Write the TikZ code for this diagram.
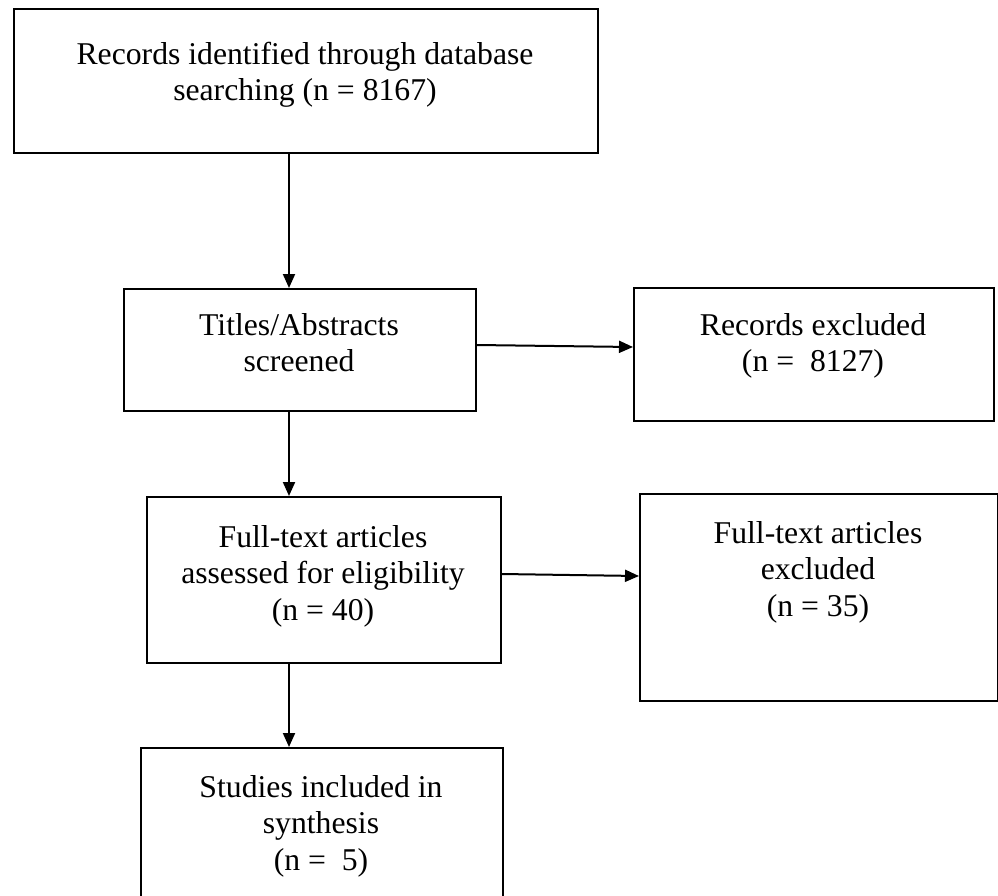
\documentclass[tikz,border=0pt]{standalone}
\usepackage{fontspec}
\setmainfont{Liberation Serif}
\usetikzlibrary{arrows.meta,calc}
\tikzset{
  box/.style={draw=black, line width=2pt, anchor=north west, inner sep=0pt, minimum width=#1},
  txt/.style={inner sep=0pt, anchor=base, font=\fontsize{31.7}{36.5}\selectfont},
  conn/.style={line width=2pt, -{Triangle[length=14pt,width=12pt]}}
}
\newcommand{\boxtext}[1]{\parbox[t]{620pt}{\centering #1}}
\begin{document}
\begin{tikzpicture}[x=1pt,y=-1pt]
\useasboundingbox (0,0) rectangle (998,895);
% boxes
\node[box=584pt, minimum height=144pt] (b1) at (13,8) {};
\node[box=352pt, minimum height=122pt] (b2) at (123,288) {};
\node[box=360pt, minimum height=133pt] (b3) at (633,287) {};
\node[box=354pt, minimum height=166pt] (b4) at (146,496) {};
\node[box=358pt, minimum height=207pt] (b5) at (639,493) {};
\node[box=362pt, minimum height=190pt] (b6) at (140,747) {};
% texts
\node[txt] (t1) at (305,64) {\boxtext{Records identified through database\\searching (n = 8167)}};
\node[txt] (t2) at (299,335) {\boxtext{Titles/Abstracts\\screened}};
\node[txt] (t3) at (813,335) {\boxtext{Records excluded\\(n =\ \ 8127)}};
\node[txt] (t4) at (323,547) {\boxtext{Full-text articles\\assessed for eligibility\\(n = 40)}};
\node[txt] (t5) at (818,543) {\boxtext{Full-text articles\\excluded\\(n = 35)}};
\node[txt] (t6) at (321,797) {\boxtext{Studies included in\\synthesis\\(n =\ \ 5)}};
% connectors
\coordinate (ax) at (289,0);
\coordinate (r1) at (0,345);
\coordinate (r1e) at (0,347);
\coordinate (r2) at (0,574);
\coordinate (r2e) at (0,576);
\draw[conn] (b1.south -| ax) -- (b2.north -| ax);
\draw[conn] (b2.south -| ax) -- (b4.north -| ax);
\draw[conn] (b4.south -| ax) -- (b6.north -| ax);
\draw[conn] (b2.east |- r1) -- (b3.west |- r1e);
\draw[conn] (b4.east |- r2) -- (b5.west |- r2e);
\end{tikzpicture}
\end{document}
